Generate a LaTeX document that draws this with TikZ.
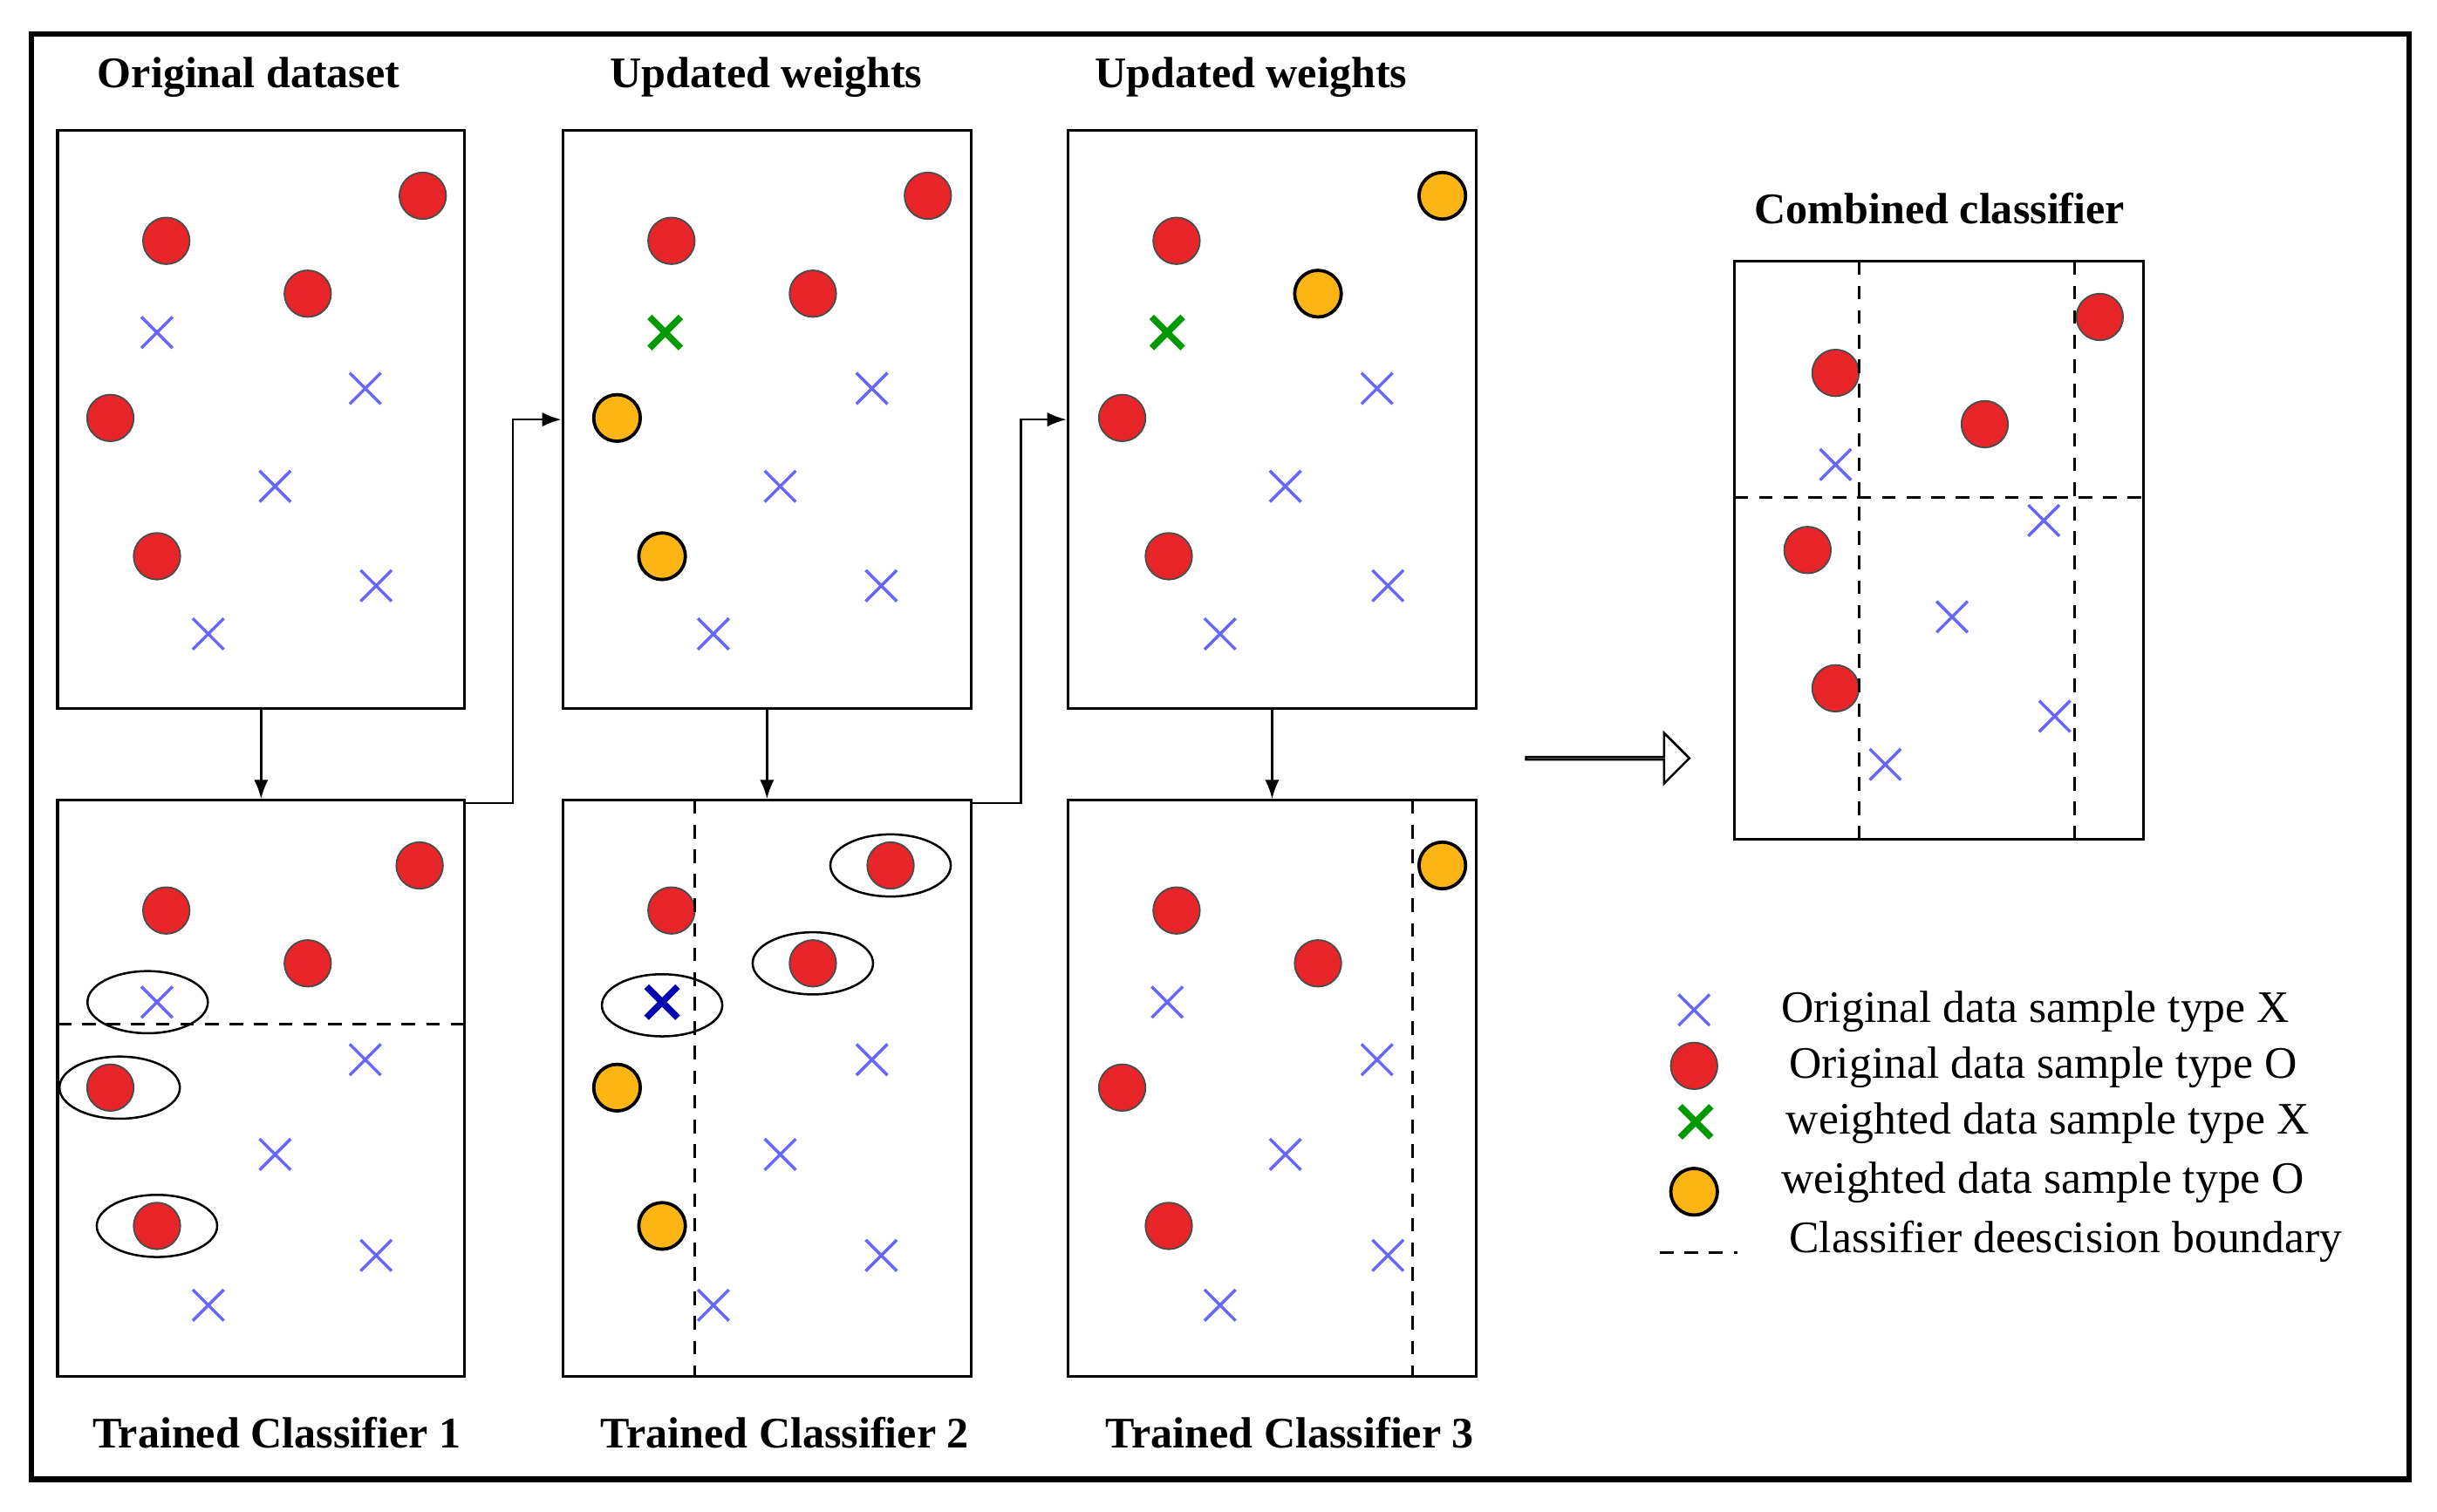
\documentclass[tikz,border=0pt]{standalone}
\usepackage{fontspec}
\setmainfont{Liberation Serif}
\usetikzlibrary{arrows.meta,shapes.arrows,shapes.geometric}
\definecolor{dotred}{HTML}{E8262A}
\definecolor{dotyel}{HTML}{FDB515}
\begin{document}
\begin{tikzpicture}[x=0.02cm,y=-0.02cm,
  panel/.style={draw,line width=1pt},
  rdot/.style={circle,draw=black!70,fill=dotred,line width=0.6pt,minimum size=0.6cm,inner sep=0},
  ydot/.style={circle,draw=black,fill=dotyel,line width=1.2pt,minimum size=0.6cm,inner sep=0},
  title/.style={font=\fontsize{16}{18}\selectfont\bfseries},
  leg/.style={font=\fontsize{16.5}{18}\selectfont,anchor=west},
  bnd/.style={dashed,line width=0.9pt,dash pattern=on 5pt off 4pt},
  ell/.style={draw,line width=0.8pt,ellipse,minimum width=1.55cm,minimum height=0.8cm,inner sep=0},
  arr/.style={-{Latex[length=7pt]},line width=0.8pt}]
\useasboundingbox (0,0) rectangle (1568,973);
\draw[line width=2pt] (20,22) rectangle (1550,952);
\newcommand{\bx}[3][blue!60!white]{\draw[#1,line width=1.1pt] (#2-10,#3-10)--(#2+10,#3+10) (#2-10,#3+10)--(#2+10,#3-10);}
\newcommand{\gx}[2]{\draw[green!60!black,line width=2.4pt] (#1-10,#2-10)--(#1+10,#2+10) (#1-10,#2+10)--(#1+10,#2-10);}
% panels
\node[panel,minimum width=5.24cm,minimum height=7.44cm,inner sep=0] (p1) at (168,270) {};
\node[panel,minimum width=5.26cm,minimum height=7.44cm,inner sep=0] (p2) at (493.5,270) {};
\node[panel,minimum width=5.26cm,minimum height=7.44cm,inner sep=0] (p3) at (818.5,270) {};
\node[panel,minimum width=5.24cm,minimum height=7.42cm,inner sep=0] (q1) at (168,700.5) {};
\node[panel,minimum width=5.26cm,minimum height=7.42cm,inner sep=0] (q2) at (493.5,700.5) {};
\node[panel,minimum width=5.26cm,minimum height=7.42cm,inner sep=0] (q3) at (818.5,700.5) {};
\node[panel,minimum width=5.26cm,minimum height=7.44cm,inner sep=0] (c) at (1247.5,354) {};
% titles
\node[title] (t1) at (160,50) {Original dataset};
\node[title] (t2) at (493,50) {Updated weights};
\node[title] (t3) at (805,50) {Updated weights};
\node[title] (t4) at (1248,134) {Combined classifier};
\node[title] (b1) at (178,922) {Trained Classifier 1};
\node[title] (b2) at (505,922) {Trained Classifier 2};
\node[title] (b3) at (830,922) {Trained Classifier 3};
% panel 1 top
\foreach \x/\y in {272/126,107/155,198/189,71/269,101/358} \node[rdot] at (\x,\y) {};
\foreach \x/\y in {101/214,235/250,177/313,242/377,134/408} {\bx{\x}{\y}}
% panel 2 top
\foreach \x/\y in {597/126,432/155,523/189} \node[rdot] at (\x,\y) {};
\foreach \x/\y in {397/269,426/358} \node[ydot] at (\x,\y) {};
\gx{428}{214}
\foreach \x/\y in {561/250,502/313,567/377,459/408} {\bx{\x}{\y}}
% panel 3 top
\foreach \x/\y in {757/155,722/269,752/358} \node[rdot] at (\x,\y) {};
\foreach \x/\y in {928/126,848/189} \node[ydot] at (\x,\y) {};
\gx{751}{214}
\foreach \x/\y in {886/250,827/313,893/377,785/408} {\bx{\x}{\y}}
% panel 1 bottom
\foreach \x/\y in {270/557,107/586,198/620,71/700,101/789} \node[rdot] at (\x,\y) {};
\foreach \x/\y in {101/645,235/682,177/743,242/808,134/840} {\bx{\x}{\y}}
\draw[bnd] (37,659) -- (299,659);
\node[ell] at (95,645) {};
\node[ell] at (77,700) {};
\node[ell] at (101,789) {};
% panel 2 bottom
\foreach \x/\y in {573/557,432/586,523/620} \node[rdot] at (\x,\y) {};
\foreach \x/\y in {397/700,426/789} \node[ydot] at (\x,\y) {};
\draw[blue!70!black,line width=2.4pt] (416,635)--(436,655) (416,655)--(436,635);
\foreach \x/\y in {561/682,502/743,567/808,459/840} {\bx{\x}{\y}}
\draw[bnd] (447,515) -- (447,886);
\node[ell] at (573,557) {};
\node[ell] at (523,620) {};
\node[ell] at (426,647) {};
% panel 3 bottom
\foreach \x/\y in {757/586,848/620,722/700,752/789} \node[rdot] at (\x,\y) {};
\node[ydot] at (928,557) {};
\foreach \x/\y in {751/645,886/682,827/743,893/808,785/840} {\bx{\x}{\y}}
\draw[bnd] (909,515) -- (909,886);
% combined
\foreach \x/\y in {1351/204,1181/240,1277/273,1163/354,1181/443} \node[rdot] at (\x,\y) {};
\foreach \x/\y in {1181/299,1315/335,1256/397,1322/461,1213/492} {\bx{\x}{\y}}
\draw[bnd] (1196,168) -- (1196,540);
\draw[bnd] (1335,168) -- (1335,540);
\draw[bnd] (1116,320) -- (1379,320);
% arrows
\draw[arr] (p1.south) -- (q1.north);
\draw[arr] (p2.south) -- (q2.north);
\draw[arr] (p3.south) -- (q3.north);
\coordinate (e1) at (299,517);
\coordinate (e2) at (625,517);
\draw[arr] (e1) -- (330,517) |- (p2.west);
\draw[arr] (e2) -- (657,517) |- (p3.west);
\node[single arrow,draw,line width=0.8pt,fill=white,minimum height=2.1cm,minimum width=0.65cm,single arrow head extend=0.25cm,inner sep=0] (big) at (1034,488) {};
% legend
\bx{1090}{650}
\node[rdot] at (1090,686) {};
\gx{1091}{722}
\node[ydot] at (1090,767) {};
\draw[bnd] (1068,806) -- (1118,806);
\node[leg] (l1) at (1140,651) {Original data sample type X};
\node[leg] (l2) at (1145,687) {Original data sample type O};
\node[leg] (l3) at (1143,723) {weighted data sample type X};
\node[leg] (l4) at (1140,761) {weighted data sample type O};
\node[leg] (l5) at (1145,799) {Classifier deescision boundary};
\end{tikzpicture}
\end{document}
